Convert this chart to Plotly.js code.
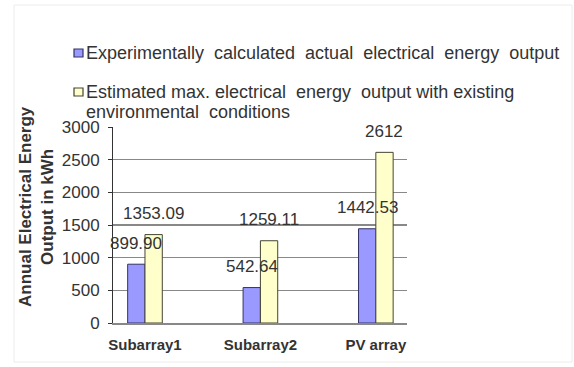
<!DOCTYPE html>
<html>
<head>
<meta charset="utf-8">
<script src="https://cdn.plot.ly/plotly-3.0.1.min.js"></script>
<style>html,body{margin:0;padding:0;background:#fff;}#chart{width:574px;height:367px;}</style>
</head>
<body>
<div id="chart"></div>
<script>
const categories = ['Subarray1', 'Subarray2', 'PV array'];
const actualOutput = [899.90, 542.64, 1442.53];
const estimatedMax = [1353.09, 1259.11, 2612];
const seriesNames = [
  ['Experimentally  calculated  actual  electrical  energy  output'],
  ['Estimated max. electrical  energy  output with existing', 'environmental  conditions']
];
const yTicks = [0, 500, 1000, 1500, 2000, 2500, 3000];

const FONT = 'Arial, "Liberation Sans", sans-serif';
const fmt = v => Number.isInteger(v) ? String(v) : v.toFixed(2);
const fills = ['#9999FF', '#FFFFCC'];
const borders = ['#333366', '#444433'];

// plot area in pixels: left 113, top 127, width 294, height 196
const px = p => (p - 113) / 294;
const py = p => (323 - p) / 196;

const traces = [actualOutput, estimatedMax].map((arr, s) => ({
  type: 'bar', x: categories, y: arr, name: seriesNames[s].join(' '), showlegend: false,
  marker: {color: fills[s], line: {color: borders[s], width: 1}}, hoverinfo: 'none'
}));

const annotations = [];
[actualOutput, estimatedMax].forEach((arr, s) => {
  arr.forEach((v, j) => {
    annotations.push({x: categories[j], y: v, xref: 'x', yref: 'y', text: fmt(v),
      showarrow: false, xshift: s === 0 ? -8.5 : 8.5, yshift: 21, yanchor: 'middle',
      font: {family: FONT, size: 17, color: '#333'}});
  });
});
annotations.push({xref: 'paper', yref: 'paper', x: px(36), y: py(207),
  text: '<b>Annual Electrical Energy<br>Output in kWh</b>', textangle: -90, showarrow: false,
  xanchor: 'center', yanchor: 'middle', font: {family: FONT, size: 17, color: '#333', weight: 'bold'}});

// legend (drawn as text + swatches)
const legendRows = [53, 92];
const shapes = [];
seriesNames.forEach((lines, s) => {
  lines.forEach((line, k) => {
    annotations.push({xref: 'paper', yref: 'paper', x: px(85), y: py(legendRows[s] + k * 20),
      text: line, showarrow: false, xanchor: 'left', yanchor: 'middle', borderpad: 0,
      font: {family: FONT, size: 18, color: '#333'}});
  });
  shapes.push({type: 'rect', xref: 'paper', yref: 'paper', x0: px(74), x1: px(83),
    y0: py(legendRows[s] + 4), y1: py(legendRows[s] - 4),
    fillcolor: fills[s], line: {color: borders[s], width: 1.2}});
});
shapes.push({type: 'rect', xref: 'paper', yref: 'paper', x0: px(14), x1: px(572),
  y0: py(362), y1: py(5), line: {color: '#ececec', width: 1}, layer: 'below'});

const layout = {
  width: 574, height: 367,
  margin: {l: 113, r: 167, t: 127, b: 44, pad: 0},
  paper_bgcolor: '#fff', plot_bgcolor: '#fff',
  barmode: 'group', bargap: 0.7, bargroupgap: 0,
  font: {family: FONT, color: '#333'},
  showlegend: false,
  xaxis: {type: 'category', range: [-0.277, 2.27], showline: true, linecolor: '#888', linewidth: 1.5,
    ticks: '', showgrid: false, ticklabelstandoff: 7,
    tickfont: {family: FONT, size: 15, color: '#333', weight: 'bold'}, fixedrange: true},
  yaxis: {range: [0, 3000], tickvals: yTicks, ticktext: yTicks.map(String), showline: true,
    linecolor: '#333', linewidth: 1, ticks: 'outside', ticklen: 4, tickcolor: '#333',
    showgrid: true, gridcolor: '#888', gridwidth: 1.5, zeroline: false, ticklabelstandoff: 5,
    tickfont: {family: FONT, size: 17, color: '#333'}, fixedrange: true},
  annotations: annotations,
  shapes: shapes
};

Plotly.newPlot('chart', traces, layout, {staticPlot: true, displayModeBar: false});
</script>
</body>
</html>
